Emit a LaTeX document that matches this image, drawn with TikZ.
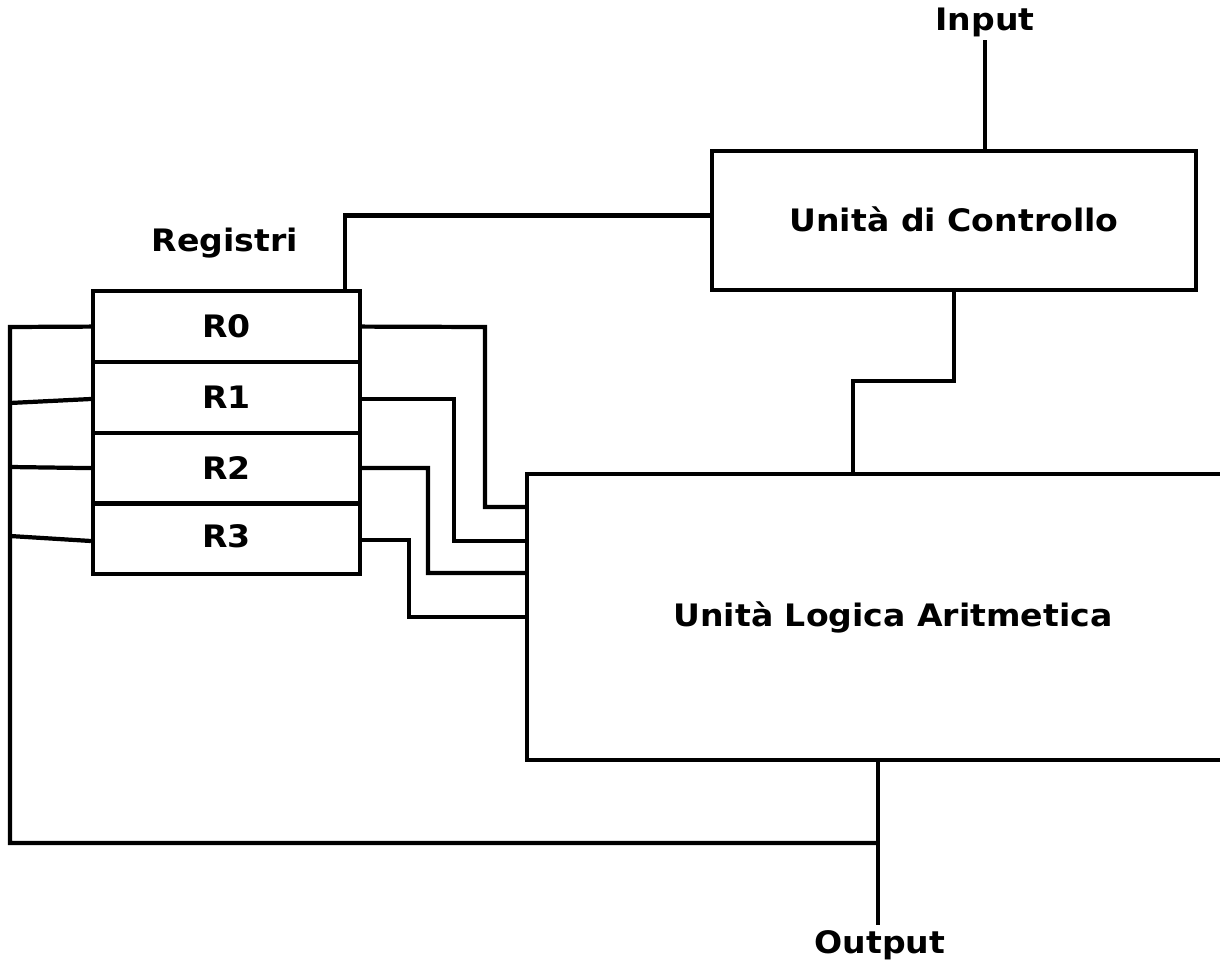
\documentclass[tikz,border=0pt]{standalone}
\usepackage{fontspec}
\newfontfamily\lblfont{DejaVu Sans}[FakeStretch=1.07]
\usetikzlibrary{calc}
\begin{document}
\begin{tikzpicture}[x=0.025cm,y=-0.025cm,
  wire/.style={line width=3pt,line cap=rect,line join=miter},
  lbl/.style={font=\lblfont\bfseries\fontsize{22}{26}\selectfont,inner sep=0pt},
  box/.style={draw,line width=3pt,inner sep=0pt,font=\lblfont\bfseries\fontsize{22}{26}\selectfont},
  regbox/.style={box,minimum width=6.675cm,minimum height=1.769cm}]
\useasboundingbox (0,0) rectangle (1220,964);
% labels
\node[lbl] (inp) at (985,22) {Input};
\node[lbl] (outl) at (880,945) {Output};
\node[lbl] (reg) at (225,243) {Registri};
% control unit
\node[box,minimum width=12.1cm,minimum height=3.475cm] (cu) at (954,220.5) {\raisebox{2pt}{Unità di Controllo}};
% registers
\node[regbox] (r0) at (226.5,326.6) {\raisebox{1pt}{R0}};
\node[regbox] (r1) at (226.5,397.4) {R1};
\node[regbox] (r2) at (226.5,468.1) {R2};
\node[regbox] (r3) at (226.5,538.9) {\raisebox{4pt}{R3}};
% ALU (extends beyond right edge)
\node[lbl,minimum width=18.3cm,minimum height=7.15cm] (alu) at (893,617) {Unità Logica Aritmetica};
\draw[wire] (alu.north east) -- (alu.north west) -- (alu.south west) -- (alu.south east);
% coordinates
\coordinate (inpend) at (985,42);
\coordinate (out) at (878,925);
\coordinate (lb0) at (10,327);
\coordinate (lb1) at (10,403);
\coordinate (lb2) at (10,467);
\coordinate (lb3) at (10,536);
\coordinate (lbb) at (10,843);
% input
\draw[wire] (inpend) -- (cu.north -| inpend);
% control to registers
\draw[wire,line cap=butt] ($(cu.west)+(0,-5)$) -| ($(r0.north east)+(-17,0)$);
% control to ALU
\draw[wire,line cap=butt] (cu.south -| 954,0) -- (954,381) -- (853,381) -- (alu.north -| 853,0);
% registers to ALU
\draw[wire,line cap=butt] (r0.east) -- (485,327) -- (485,507) -- (alu.west |- 0,507);
\draw[wire,line cap=butt] (r1.east |- 0,399) -- (454,399) -- (454,541) -- (alu.west |- 0,541);
\draw[wire,line cap=butt] (r2.east) -- (428,468) -- (428,573) -- (alu.west |- 0,573);
\draw[wire,line cap=butt] (r3.east |- 0,540) -- (409,540) -- (409,617) -- (alu.west |- 0,617);
% left feedback bus
\draw[wire,line cap=butt] (r0.west) -- (lb0) -- (lbb) -- (out |- lbb);
\draw[wire,line cap=butt] (lb1) -- (r1.west |- 0,399);
\draw[wire,line cap=butt] (lb2) -- (r2.west);
\draw[wire,line cap=butt] (lb3) -- (r3.west |- 0,541);
% output
\draw[wire,line cap=butt] (alu.south -| out) -- (out);
\end{tikzpicture}
\end{document}
